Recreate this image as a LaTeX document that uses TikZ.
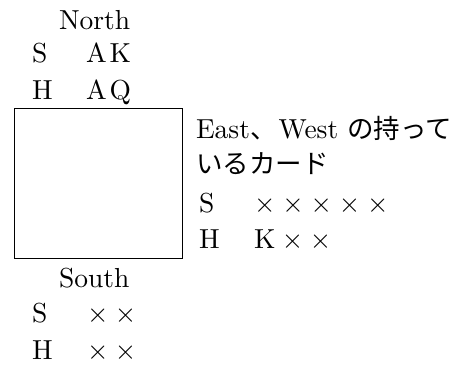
\documentclass[tikz,border=0pt]{standalone}
\usepackage{fontspec}
\setmainfont{lmroman10-regular}[Extension=.otf]
\newfontfamily\jp{Noto Sans CJK JP}
\begin{document}
\begin{tikzpicture}[x=1pt,y=-1pt,
  txt/.style={anchor=base west,inner sep=0pt,outer sep=0pt,font=\fontsize{27.5}{32}\selectfont},
  board/.style={draw=black,line width=0.9pt}]
\useasboundingbox (0,0) rectangle (476,365);
% North
\node[txt] (north) at (59,29) {North};
\node[txt] (ns) at (32,62) {S};
\node[txt] (nsc) at (86,62) {A\hspace{3pt}K};
\node[txt] (nh) at (32,99) {H};
\node[txt] (nhc) at (86,99) {A\hspace{3pt}Q};
% table
\draw[board] (14,108) rectangle (182,258);
% South
\node[txt] (south) at (59,287) {South};
\node[txt] (ss) at (32,322) {S};
\node[txt] (ssc) at (87,322) {×\hspace{6.6pt}×};
\node[txt] (sh) at (32,359) {H};
\node[txt] (shc) at (87,359) {×\hspace{6.6pt}×};
% East-West
\node[txt] (ew1) at (196,138) {East{\jp\fontsize{26.5}{30}\selectfont 、}\hspace{2pt}West {\jp\fontsize{26.5}{30}\selectfont の持って}};
\node[txt] (ew2) at (196,173) {{\jp\fontsize{26.5}{30}\selectfont いるカード}};
\node[txt] (es) at (199,212) {S};
\node[txt] (esc) at (254,212) {×\hspace{6.9pt}×\hspace{6.9pt}×\hspace{6.9pt}×\hspace{6.9pt}×};
\node[txt] (eh) at (199,248) {H};
\node[txt] (ehc) at (254,248) {K\hspace{6.6pt}×\hspace{6.6pt}×};
\end{tikzpicture}
\end{document}
